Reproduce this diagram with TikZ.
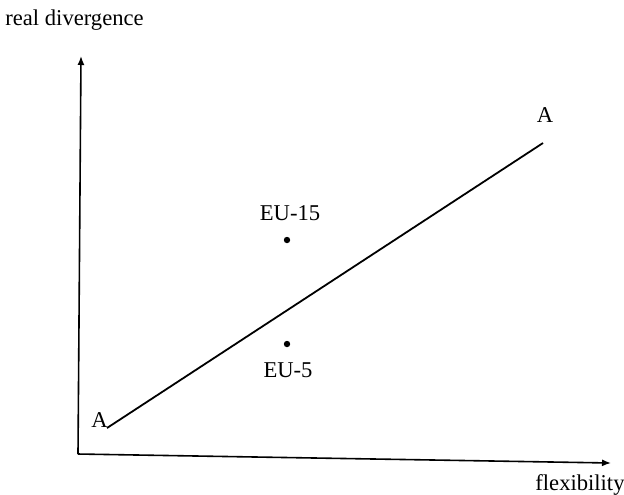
\documentclass[tikz,border=0pt]{standalone}
\usepackage{fontspec}
\setmainfont{Liberation Serif}
\usetikzlibrary{arrows.meta}
\begin{document}
\begin{tikzpicture}[x=0.5pt,y=-0.5pt,
  axis/.style={line width=0.8pt,-{Latex[length=4.5pt,width=3.5pt]}},
  curve/.style={line width=0.9pt},
  lbl/.style={inner sep=0pt,font=\fontsize{11.3}{13}\selectfont},
  pt/.style={circle,fill=black,inner sep=0pt,minimum size=3.2pt}]
\useasboundingbox (0,0) rectangle (624,494);
\coordinate (O) at (78,454);
\coordinate (Ytop) at (81,56);
\coordinate (Xend) at (611,463);
\draw[axis] (O) -- (Ytop);
\draw[axis] (O) -- (Xend);
\coordinate (A1) at (107,428);
\coordinate (A2) at (543,143);
\draw[curve] (A1) -- (A2);
\node[lbl] (a1) at (99.5,420.5) {A};
\node[lbl] (a2) at (545,115.5) {A};
\node[pt] (eu15) at (287,240) {};
\node[pt] (eu5) at (287,344) {};
\node[lbl] (eu15l) at (290,213.5) {EU-15};
\node[lbl] (eu5l) at (288,370) {EU-5};
\node[lbl,anchor=base west] (ylab) at (5,25) {real divergence};
\node[lbl,anchor=base west] (xlab) at (535,490) {flexibility};
\end{tikzpicture}
\end{document}
